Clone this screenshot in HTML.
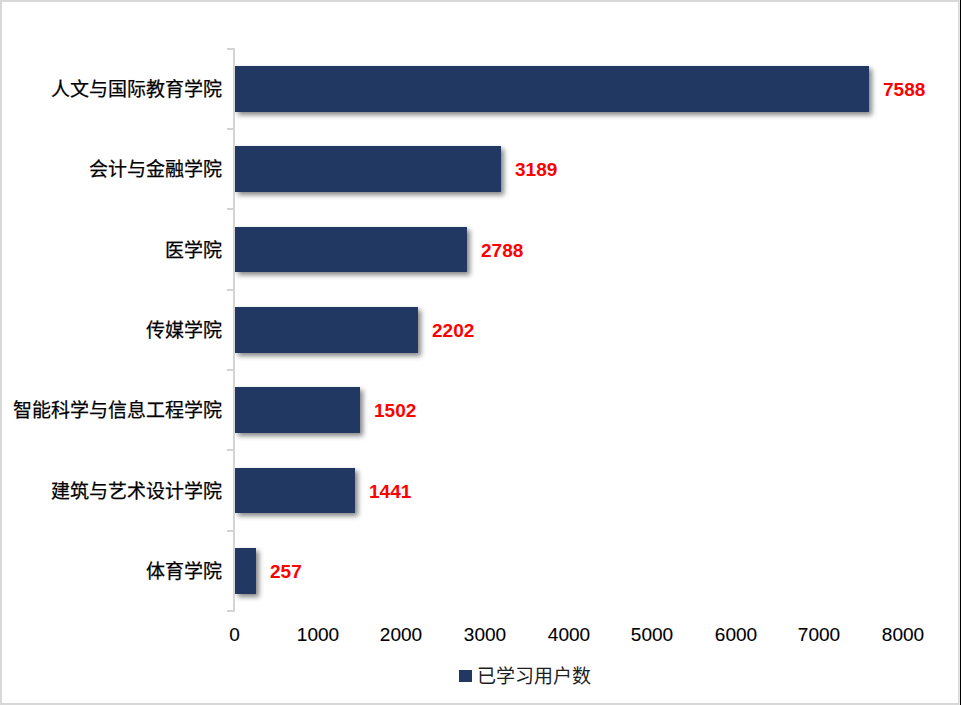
<!DOCTYPE html>
<html lang="zh-CN">
<head>
<meta charset="utf-8">
<style>
html,body{margin:0;padding:0;background:#fff;}
body{width:961px;height:705px;position:relative;overflow:hidden;font-family:"Liberation Sans",sans-serif;}
#frame{position:absolute;left:0;top:0;width:956px;height:701px;border:2px solid #d8d8d8;background:#fff;}
#edge{position:absolute;left:960px;top:0;width:1px;height:705px;background:#000;}
#edge2{position:absolute;left:959px;top:0;width:1px;height:705px;background:#e6e6e6;}
.axis{position:absolute;background:#d4d4d4;}
.bar{position:absolute;left:235px;height:46px;background:#213862;box-shadow:3px 3px 5px rgba(0,0,0,0.48);}
.cat{position:absolute;right:739px;font-size:19px;-webkit-text-stroke:0.25px #000;color:#000;white-space:nowrap;line-height:1;}
.val{position:absolute;font-size:19px;font-weight:bold;color:#f00;white-space:nowrap;line-height:1;}
.tick{position:absolute;top:625px;font-size:19px;-webkit-text-stroke:0.1px #000;color:#000;white-space:nowrap;line-height:1;transform:translateX(-50%);}
</style>
</head>
<body>
<div id="frame"></div>
<div id="edge2"></div>
<div id="edge"></div>


<div class="bar" style="top:66px;width:634px;"></div>
<div class="bar" style="top:146px;width:266px;"></div>
<div class="bar" style="top:227px;width:232px;height:45px;"></div>
<div class="bar" style="top:307px;width:183px;"></div>
<div class="bar" style="top:387px;width:125px;"></div>
<div class="bar" style="top:468px;width:120px;height:45px;"></div>
<div class="bar" style="top:548px;width:21px;"></div>

<div class="axis" style="left:233px;top:48px;width:2px;height:564px;"></div>
<div class="axis" style="left:227px;top:48px;width:7px;height:2px;"></div>
<div class="axis" style="left:227px;top:128px;width:7px;height:2px;"></div>
<div class="axis" style="left:227px;top:208px;width:7px;height:2px;"></div>
<div class="axis" style="left:227px;top:289px;width:7px;height:2px;"></div>
<div class="axis" style="left:227px;top:369px;width:7px;height:2px;"></div>
<div class="axis" style="left:227px;top:449px;width:7px;height:2px;"></div>
<div class="axis" style="left:227px;top:530px;width:7px;height:2px;"></div>
<div class="axis" style="left:227px;top:610px;width:7px;height:2px;"></div>

<div class="cat" style="top:80px;">人文与国际教育学院</div>
<div class="cat" style="top:160px;">会计与金融学院</div>
<div class="cat" style="top:241px;">医学院</div>
<div class="cat" style="top:321px;">传媒学院</div>
<div class="cat" style="top:401px;">智能科学与信息工程学院</div>
<div class="cat" style="top:482px;">建筑与艺术设计学院</div>
<div class="cat" style="top:562px;">体育学院</div>

<div class="val" style="left:883px;top:80px;">7588</div>
<div class="val" style="left:515px;top:160px;">3189</div>
<div class="val" style="left:481px;top:241px;">2788</div>
<div class="val" style="left:432px;top:321px;">2202</div>
<div class="val" style="left:374px;top:401px;">1502</div>
<div class="val" style="left:369px;top:482px;">1441</div>
<div class="val" style="left:270px;top:562px;">257</div>

<div class="tick" style="left:234.5px;">0</div>
<div class="tick" style="left:318px;">1000</div>
<div class="tick" style="left:401px;">2000</div>
<div class="tick" style="left:485px;">3000</div>
<div class="tick" style="left:569px;">4000</div>
<div class="tick" style="left:652px;">5000</div>
<div class="tick" style="left:736px;">6000</div>
<div class="tick" style="left:819px;">7000</div>
<div class="tick" style="left:903px;">8000</div>

<div style="position:absolute;left:459px;top:670px;width:13px;height:12px;background:#213862;"></div>
<div style="position:absolute;left:477px;top:667px;font-size:19px;line-height:1;white-space:nowrap;color:#1e1e1e;">已学习用户数</div>
</body>
</html>
